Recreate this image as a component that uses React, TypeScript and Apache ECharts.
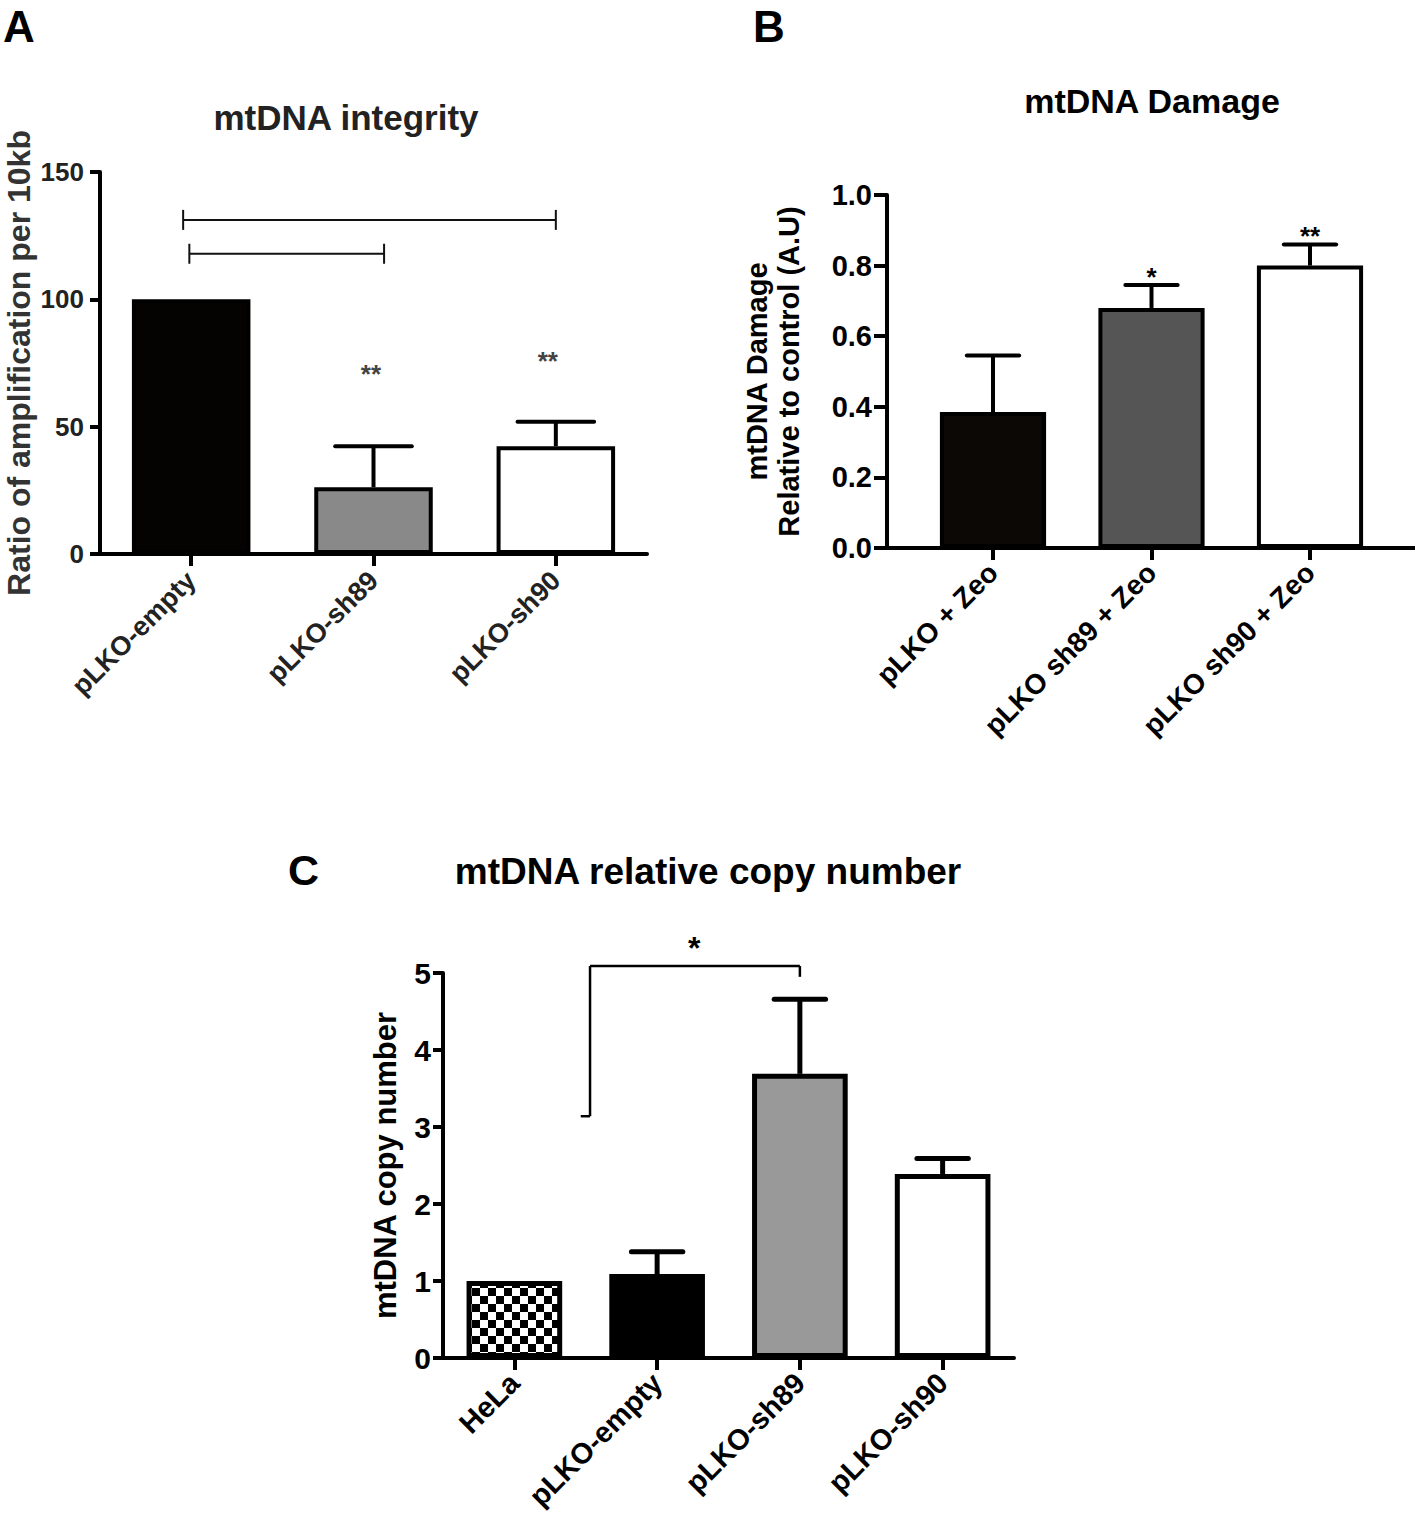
import React, { useEffect, useRef } from "react";
import * as echarts from "echarts";

const FONT = "'Liberation Sans', Arial, Helvetica, sans-serif";

// ---------- Panel A : mtDNA integrity ----------
const catsA = ["pLKO-empty", "pLKO-sh89", "pLKO-sh90"];
const valsA = [100, 26.2, 42.3];
const errTopA: (number | null)[] = [null, 42.3, 51.9];
const colorsA = ["#050202", "#898989", "#ffffff"];
// [from category index, to category index, y value]
const bracketsA = [
  [-0.044, 2.0, 131.2],
  [-0.01, 1.058, 117.9],
];
const starsA: [number, number, string][] = [
  [0.986, 72.9, "**"],
  [1.956, 78.2, "**"],
];

// ---------- Panel B : mtDNA Damage ----------
const catsB = ["pLKO + Zeo", "pLKO sh89 + Zeo", "pLKO sh90 + Zeo"];
const valsB = [0.385, 0.68, 0.8];
const errTopB: (number | null)[] = [0.545, 0.745, 0.86];
const colorsB = ["#0b0805", "#555555", "#ffffff"];
const starsB: [number, number, string][] = [
  [1, 0.783, "*"],
  [2, 0.9, "**"],
];

// ---------- Panel C : mtDNA relative copy number ----------
const catsC = ["HeLa", "pLKO-empty", "pLKO-sh89", "pLKO-sh90"];
const valsC = [1.0, 1.09, 3.69, 2.39];
const errTopC: (number | null)[] = [null, 1.38, 4.66, 2.59];
const colorsC = ["checker", "#000000", "#999999", "#ffffff"];
// [from idx, to idx, bar y, left drop y, right drop y]
const bracketC = [[0.53, 2, 5.09, 3.14, 4.95]];
const starsC: [number, number, string][] = [[1.26, 5.41, "*"]];

// ---------- layout (pixels) ----------
const GA = { left: 100, top: 172, width: 547, height: 382 };
const GB = { left: 913.75, top: 195, width: 475.5, height: 353 };
const GB_AXIS_X = 887;
const GB_AXIS_END = 1415;
const GC = { left: 443, top: 973, width: 571, height: 385 };

function makeChecker() {
  const c = document.createElement("canvas");
  c.width = 16;
  c.height = 16;
  const ctx = c.getContext("2d")!;
  ctx.fillStyle = "#ffffff";
  ctx.fillRect(0, 0, 16, 16);
  ctx.fillStyle = "#000000";
  ctx.fillRect(0, 0, 8, 8);
  ctx.fillRect(8, 8, 8, 8);
  return c;
}

function xAt(api: any, xi: number, y: number) {
  const band = api.size([1, 0])[0];
  const r = Math.round(xi);
  const p = api.coord([r, y]);
  return [p[0] + (xi - r) * band, p[1]];
}

function errorRender(capFrac: number, lw: number) {
  return (params: any, api: any) => {
    const i = api.value(0);
    const v = api.value(1);
    const e = api.value(2);
    const band = api.size([1, 0])[0];
    const cap = band * capFrac;
    const p0 = api.coord([i, v]);
    const p1 = api.coord([i, e]);
    return {
      type: "group",
      children: [
        {
          type: "line",
          shape: { x1: p0[0], y1: p0[1], x2: p1[0], y2: p1[1] },
          style: { stroke: "#000", lineWidth: lw },
        },
        {
          type: "line",
          shape: { x1: p1[0] - cap / 2, y1: p1[1], x2: p1[0] + cap / 2, y2: p1[1] },
          style: { stroke: "#000", lineWidth: lw, lineCap: "round" },
        },
      ],
    };
  };
}

function starRender(list: [number, number, string][], fs: number, color: string) {
  return (params: any, api: any) => {
    const p = xAt(api, api.value(0), api.value(1));
    return {
      type: "text",
      x: p[0],
      y: p[1] + fs * 0.22,
      style: {
        text: list[params.dataIndex][2],
        fill: color,
        font: `bold ${fs}px ${FONT}`,
        align: "center",
        verticalAlign: "middle",
      },
    };
  };
}

function errData(vals: number[], tops: (number | null)[]) {
  const out: number[][] = [];
  vals.forEach((v, i) => {
    const t = tops[i];
    if (t != null) out.push([i, v, t]);
  });
  return out;
}

export default function App() {
  const ref = useRef<HTMLDivElement>(null);

  useEffect(() => {
    document.body.style.margin = "0";
    if (!ref.current) return;
    const chart = echarts.init(ref.current, undefined, { renderer: "svg" });
    const checker = makeChecker();

    const yAxisBase = (gridIndex: number, fs: number, color: string, margin: number, tickLen: number) => ({
      type: "value",
      gridIndex,
      splitLine: { show: false },
      axisLine: { show: true, lineStyle: { color: "#000", width: 4 } },
      axisTick: { show: true, length: tickLen, lineStyle: { color: "#000", width: 4 } },
      axisLabel: { fontSize: fs, fontWeight: "bold", color, fontFamily: FONT, margin },
      nameLocation: "middle",
      nameRotate: 90,
    });

    const xAxisBase = (gridIndex: number, data: string[], fs: number, color: string, margin: number, showLine: boolean) => ({
      type: "category",
      gridIndex,
      data,
      axisLine: { show: showLine, lineStyle: { color: "#000", width: 4 } },
      axisTick: { show: true, alignWithLabel: true, length: 12, lineStyle: { color: "#000", width: 4 } },
      axisLabel: {
        rotate: 45,
        interval: 0,
        fontSize: fs,
        fontWeight: "bold",
        color,
        fontFamily: FONT,
        margin,
      },
    });

    const option: any = {
      animation: false,
      backgroundColor: "#ffffff",
      grid: [
        { ...GA, containLabel: false },
        { ...GB, containLabel: false },
        { ...GC, containLabel: false },
      ],
      xAxis: [
        xAxisBase(0, catsA, 27, "#222", 22, true),
        xAxisBase(1, catsB, 28, "#000", 20, false),
        xAxisBase(2, catsC, 29, "#000", 20, true),
      ],
      yAxis: [
        {
          ...yAxisBase(0, 26, "#222", 16, 10),
          min: 0,
          max: 150,
          interval: 50,
          name: "Ratio of amplification per 10kb",
          nameGap: 65,
          nameTextStyle: { fontSize: 32, fontWeight: "bold", color: "#333", fontFamily: FONT },
        },
        {
          ...yAxisBase(1, 29, "#000", 15, 13),
          min: 0,
          max: 1,
          interval: 0.2,
          offset: GB.left - GB_AXIS_X,
          axisLabel: {
            fontSize: 29,
            fontWeight: "bold",
            color: "#000",
            fontFamily: FONT,
            margin: 15,
            formatter: (v: number) => v.toFixed(1),
          },
          name: "mtDNA Damage\nRelative to control (A.U)",
          nameGap: 82,
          nameTextStyle: { fontSize: 29, lineHeight: 32, fontWeight: "bold", color: "#000", fontFamily: FONT },
        },
        {
          ...yAxisBase(2, 30, "#000", 12, 10),
          min: 0,
          max: 5,
          interval: 1,
          name: "mtDNA copy number",
          nameGap: 42,
          nameTextStyle: { fontSize: 31, fontWeight: "bold", color: "#000", fontFamily: FONT },
        },
      ],
      graphic: [
        {
          type: "text",
          x: 3,
          y: 26,
          style: { text: "A", font: `bold 44px ${FONT}`, fill: "#000", align: "left", verticalAlign: "middle" },
        },
        {
          type: "text",
          x: 753,
          y: 26,
          style: { text: "B", font: `bold 44px ${FONT}`, fill: "#000", align: "left", verticalAlign: "middle" },
        },
        {
          type: "text",
          x: 288,
          y: 870,
          style: { text: "C", font: `bold 43px ${FONT}`, fill: "#000", align: "left", verticalAlign: "middle" },
        },
        {
          type: "text",
          x: 346,
          y: 117,
          style: { text: "mtDNA integrity", font: `bold 35px ${FONT}`, fill: "#222", align: "center", verticalAlign: "middle" },
        },
        {
          type: "text",
          x: 1152,
          y: 101,
          style: { text: "mtDNA Damage", font: `bold 34px ${FONT}`, fill: "#000", align: "center", verticalAlign: "middle" },
        },
        {
          type: "text",
          x: 708,
          y: 871,
          style: { text: "mtDNA relative copy number", font: `bold 37px ${FONT}`, fill: "#000", align: "center", verticalAlign: "middle" },
        },
        {
          type: "line",
          shape: { x1: GB_AXIS_X - 2, y1: GB.top + GB.height, x2: GB_AXIS_END, y2: GB.top + GB.height },
          style: { stroke: "#000", lineWidth: 4 },
        },
      ],
      series: [
        // ---- A ----
        {
          type: "bar",
          xAxisIndex: 0,
          yAxisIndex: 0,
          barWidth: "65%",
          data: valsA.map((v, i) => ({
            value: v,
            itemStyle: { color: colorsA[i], borderColor: "#000", borderWidth: 4 },
          })),
        },
        {
          type: "custom",
          xAxisIndex: 0,
          yAxisIndex: 0,
          z: 5,
          clip: false,
          renderItem: errorRender(0.42, 4),
          data: errData(valsA, errTopA),
        },
        {
          type: "custom",
          xAxisIndex: 0,
          yAxisIndex: 0,
          z: 5,
          clip: false,
          renderItem: (params: any, api: any) => {
            const a = xAt(api, api.value(0), api.value(2));
            const b = xAt(api, api.value(1), api.value(2));
            const h = 10;
            const st = { stroke: "#111", lineWidth: 2 };
            return {
              type: "group",
              children: [
                { type: "line", shape: { x1: a[0], y1: a[1], x2: b[0], y2: b[1] }, style: st },
                { type: "line", shape: { x1: a[0], y1: a[1] - h, x2: a[0], y2: a[1] + h }, style: st },
                { type: "line", shape: { x1: b[0], y1: b[1] - h, x2: b[0], y2: b[1] + h }, style: st },
              ],
            };
          },
          data: bracketsA,
        },
        {
          type: "custom",
          xAxisIndex: 0,
          yAxisIndex: 0,
          z: 6,
          clip: false,
          renderItem: starRender(starsA, 26, "#444"),
          data: starsA.map((s) => [s[0], s[1]]),
        },
        // ---- B ----
        {
          type: "bar",
          xAxisIndex: 1,
          yAxisIndex: 1,
          barWidth: "67%",
          data: valsB.map((v, i) => ({
            value: v,
            itemStyle: { color: colorsB[i], borderColor: "#000", borderWidth: 4 },
          })),
        },
        {
          type: "custom",
          xAxisIndex: 1,
          yAxisIndex: 1,
          z: 5,
          clip: false,
          renderItem: errorRender(0.33, 4),
          data: errData(valsB, errTopB),
        },
        {
          type: "custom",
          xAxisIndex: 1,
          yAxisIndex: 1,
          z: 6,
          clip: false,
          renderItem: starRender(starsB, 26, "#000"),
          data: starsB.map((s) => [s[0], s[1]]),
        },
        // ---- C ----
        {
          type: "bar",
          xAxisIndex: 2,
          yAxisIndex: 2,
          barWidth: "67%",
          data: valsC.map((v, i) => ({
            value: v,
            itemStyle: {
              color: colorsC[i] === "checker" ? { image: checker, repeat: "repeat" } : colorsC[i],
              borderColor: "#000",
              borderWidth: 5,
            },
          })),
        },
        {
          type: "custom",
          xAxisIndex: 2,
          yAxisIndex: 2,
          z: 5,
          clip: false,
          renderItem: errorRender(0.36, 5),
          data: errData(valsC, errTopC),
        },
        {
          type: "custom",
          xAxisIndex: 2,
          yAxisIndex: 2,
          z: 5,
          clip: false,
          renderItem: (params: any, api: any) => {
            const a = xAt(api, api.value(0), api.value(2));
            const b = xAt(api, api.value(1), api.value(2));
            const aDown = xAt(api, api.value(0), api.value(3));
            const bDown = xAt(api, api.value(1), api.value(4));
            const band = api.size([1, 0])[0];
            const st = { stroke: "#000", lineWidth: 2.5 };
            return {
              type: "group",
              children: [
                { type: "line", shape: { x1: a[0], y1: a[1], x2: b[0], y2: b[1] }, style: st },
                { type: "line", shape: { x1: a[0], y1: a[1], x2: aDown[0], y2: aDown[1] }, style: st },
                { type: "line", shape: { x1: aDown[0] - band * 0.065, y1: aDown[1], x2: aDown[0], y2: aDown[1] }, style: st },
                { type: "line", shape: { x1: b[0], y1: b[1], x2: bDown[0], y2: bDown[1] }, style: st },
              ],
            };
          },
          data: bracketC,
        },
        {
          type: "custom",
          xAxisIndex: 2,
          yAxisIndex: 2,
          z: 6,
          clip: false,
          renderItem: starRender(starsC, 32, "#000"),
          data: starsC.map((s) => [s[0], s[1]]),
        },
      ],
    };

    chart.setOption(option);
    return () => chart.dispose();
  }, []);

  return <div ref={ref} style={{ width: 1418, height: 1518 }} />;
}
